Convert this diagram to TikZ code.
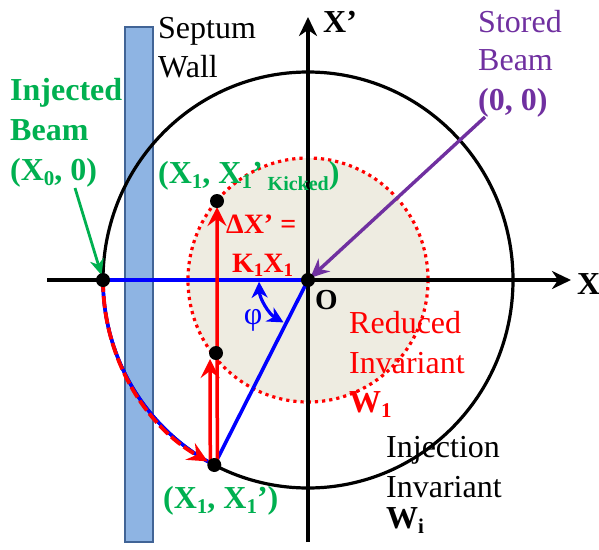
\documentclass[tikz,border=0pt]{standalone}
\usepackage{fontspec}
\setmainfont{Liberation Serif}
\usetikzlibrary{arrows.meta,calc}
\definecolor{ogreen}{RGB}{0,176,80}
\definecolor{opurple}{RGB}{112,48,160}
\definecolor{ored}{RGB}{255,0,0}
\definecolor{oblue}{RGB}{0,0,255}
\definecolor{bgtan}{RGB}{238,236,225}
\definecolor{septfill}{RGB}{142,180,227}
\definecolor{septdraw}{RGB}{65,100,150}
\newcommand\sbs[1]{\raisebox{-5pt}{\fontsize{21}{21}\selectfont #1}}
\newcommand\sbm[1]{\raisebox{-4pt}{\fontsize{19}{19}\selectfont #1}}
\newcommand\sbk[1]{\raisebox{-7pt}{\fontsize{20}{20}\selectfont #1}}
\begin{document}
\begin{tikzpicture}[x=1pt,y=-1pt,
  dot/.style={circle,fill=black,inner sep=0pt,minimum size=14pt},
  lbl/.style={anchor=base west,inner sep=0pt,font=\fontsize{32}{38}\selectfont},
  lblb/.style={anchor=base west,inner sep=0pt,font=\fontsize{32}{38}\selectfont\bfseries},
  axis/.style={line width=3.4pt,-{Stealth[length=19pt,width=18pt,inset=6pt]}},
  redarrow/.style={ored,line width=3.5pt,-{Stealth[length=19pt,width=19pt,inset=7pt]}},
  bluel/.style={oblue,line width=3.6pt}]
\useasboundingbox (0,0) rectangle (599,549);

% points
\coordinate (O) at (308,280);
\coordinate (P0) at (103,280);
\coordinate (P1) at (214.3,465);
\coordinate (Pm) at (216,353);
\coordinate (Pt) at (217,201);
\coordinate (axL) at (47,280);
\coordinate (axR) at (571,280);
\coordinate (axB) at (308,542);
\coordinate (axT) at (308,17);
\coordinate (pS) at (485,117);
\coordinate (gS) at (75,188);

% reduced invariant fill
\fill[bgtan] (O) ellipse [x radius=120, y radius=122];
% septum wall
\draw[septdraw,fill=septfill,line width=2pt] (125,27) rectangle (153,542);
% reduced invariant dotted
\draw[ored,line width=3.2pt,dash pattern=on 3.2pt off 4pt] (O) ellipse [x radius=120, y radius=122];
% injection invariant
\draw[black,line width=3.2pt] (O) ellipse [x radius=205, y radius=208];
% axes
\draw[axis] (axL) -- (axR);
\draw[axis] (axB) -- (axT);
% blue lines
\draw[bluel] (P0) -- (O);
\draw[bluel] (O) -- (P1);
\draw[bluel] (P0) arc[start angle=180, end angle=117.2, x radius=205, y radius=208];
\draw[ored,line width=3.8pt,dash pattern=on 12pt off 4pt,-{Stealth[length=20pt,width=19pt,inset=7pt]}]
  (P0) arc[start angle=180, end angle=119.3, x radius=205, y radius=208];
% angle phi
\draw[oblue,line width=3.2pt,{Stealth[length=16pt,width=16pt,inset=5pt]}-{Stealth[length=16pt,width=16pt,inset=5pt]}]
  ([shift={(178:49)}]O) arc[start angle=178, end angle=120, radius=49];
% red kick arrows
\draw[redarrow,shorten >=6pt] ([xshift=3pt]P1) -- (Pt);
\draw[redarrow,shorten >=6pt] ([xshift=-4pt]P1) -- ([xshift=-6pt]Pm);
% purple and green arrows
\draw[opurple,line width=3.4pt,-{Stealth[length=19pt,width=17pt,inset=6pt]},shorten >=3pt] (pS) -- (O);
\draw[ogreen,line width=2.8pt,-{Stealth[length=16pt,width=14pt,inset=5pt]},shorten >=5pt] (gS) -- (P0);
% dots
\node[dot] (dO) at (O) {};
\node[dot] (d0) at (P0) {};
\node[dot] (d1) at (P1) {};
\node[dot] (dm) at (Pm) {};
\node[dot] (dt) at (Pt) {};

% labels
\node[lblb,ogreen] (inj1) at (10,100) {Injected};
\node[lblb,ogreen] (inj2) at (10,140) {Beam};
\node[lblb,ogreen] (inj3) at (10,180) {(X\sbs{0}, 0)};
\node[lbl] (sep1) at (158,38) {Septum};
\node[lbl] (sep2) at (158,77) {Wall};
\node[lblb,ogreen] (kick) at (158,183) {(X\sbs{1}, X\sbs{1}’\sbk{ Kicked})};
\node[lblb,ored,font=\fontsize{28}{32}\selectfont\bfseries] (dx1) at (226,233) {ΔX’ =};
\node[lblb,ored,font=\fontsize{28}{32}\selectfont\bfseries] (dx2) at (232,272) {K\sbm{1}X\sbm{1}};
\node[lblb,font=\fontsize{29}{34}\selectfont\bfseries] (Olbl) at (315,309) {O};
\node[oblue,inner sep=0pt,font=\fontsize{32}{38}\selectfont] (phi) at (253,320) {φ};
\node[lbl,ored] (red1) at (349,333) {Reduced};
\node[lbl,ored] (red2) at (349,373) {Invariant};
\node[lblb,ored] (red3) at (349,412) {W\sbs{1}};
\node[lbl] (inv1) at (386,457) {Injection};
\node[lbl] (inv2) at (386,497) {Invariant};
\node[lblb] (inv3) at (386,528) {W\sbs{i}};
\node[lbl,opurple] (st1) at (478,32) {Stored};
\node[lbl,opurple] (st2) at (478,70) {Beam};
\node[lblb,opurple] (st3) at (478,110) {(0, 0)};
\node[lblb] (xp) at (323,32) {X’};
\node[lblb] (xl) at (577,294) {X};
\node[lblb,ogreen] (x1) at (163,508) {(X\sbs{1}, X\sbs{1}’)};
\end{tikzpicture}
\end{document}
